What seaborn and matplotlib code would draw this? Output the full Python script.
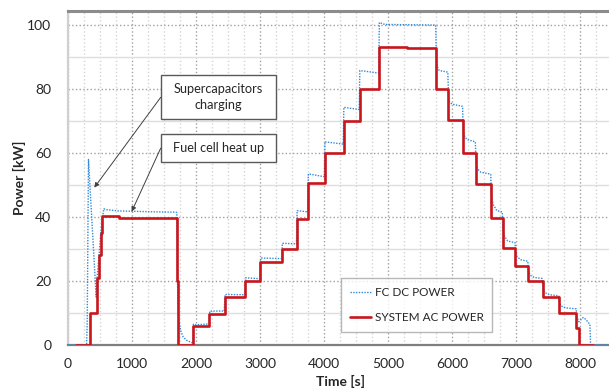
import seaborn as sns
import matplotlib.pyplot as plt
from matplotlib.patches import Rectangle
from matplotlib.ticker import MultipleLocator

# SYSTEM AC POWER: step changes (time [s], power [kW]) drawn as steps-post
ac_time = [125, 336, 448, 484, 510, 536, 800, 1200, 1700, 1724, 1955, 2210,
           2450, 2770, 3005, 3345, 3575, 3750, 4010, 4305, 4555, 4860, 5300,
           5745, 5940, 6170, 6370, 6610, 6790, 6990, 7190, 7415, 7675, 7945,
           7990, 8200]
ac_power = [0, 9.9, 21, 28, 35, 40.2, 39.8, 39.6, 20, 0, 5.8, 9.8,
            15, 20, 26, 30, 39.5, 50.5, 60, 70, 80, 93.1, 92.9,
            80, 70.2, 60, 50.3, 39.8, 30.2, 24.8, 19.9, 14.9, 10.1, 5.4,
            0, 0]

# FC DC POWER samples (time [s], power [kW])
fc_time = [0, 290, 300, 320, 440, 450, 485, 512, 540, 560, 600, 800, 1200,
           1690, 1700, 1715, 1730, 1760, 1800, 1850, 1950, 1960, 2000, 2205,
           2215, 2440, 2455, 2765, 2775, 3000, 3010, 3340, 3350, 3570, 3580,
           3745, 3755, 4005, 4015, 4300, 4310, 4550, 4560, 4855, 4865, 4950,
           5745, 5755, 5770, 5800, 5935, 5945, 5960, 6000, 6165, 6175, 6200,
           6240, 6365, 6375, 6400, 6450, 6605, 6615, 6640, 6700, 6785, 6795,
           6820, 6870, 6985, 6995, 7020, 7080, 7185, 7195, 7220, 7290, 7410,
           7420, 7450, 7520, 7670, 7680, 7700, 7780, 7940, 7950, 7980, 8050,
           8090, 8140, 8155, 8165, 8500]
fc_power = [0, 0, 7, 58, 15, 20, 28, 35, 40, 42.6, 42.3, 41.9, 41.7,
            41.5, 41.4, 15, 8, 4.5, 2.5, 1.5, 0.6, 6.5, 6.3, 6.6,
            10.6, 10.6, 15.8, 15.7, 21, 20.7, 27.2, 27, 31.8, 31.6, 42,
            41.6, 53.5, 52.6, 63.5, 62.8, 74.3, 73.6, 85.8, 85, 100.8, 100.2,
            100, 90, 87, 85.8, 85.3, 78, 76, 75.3, 74.6, 67, 65,
            64.2, 63.5, 57, 55, 54, 53.4, 47, 44, 42, 41.6, 36,
            34, 32.5, 32, 29, 27.5, 26.6, 26.2, 23, 21.8, 21.1, 20.8,
            17.5, 16.4, 15.7, 15.4, 13, 12.2, 11.6, 11.3, 9, 7.3, 8.6,
            8.0, 6.8, 6.5, 0, 0]

box_texts = ['Supercapacitors\ncharging', 'Fuel cell heat up']

sns.set_style('white')
plt.rcParams['font.family'] = ['Lato', 'DejaVu Sans']

fig = plt.figure(figsize=(6.09, 3.90), dpi=100)
ax = fig.add_axes([68 / 609, 1 - 345 / 390, 544 / 609, 334 / 390])

sns.lineplot(x=fc_time, y=fc_power, ax=ax, estimator=None, sort=False,
             color='#3088d8', linestyle=(0, (1, 1)), linewidth=1.0,
             label='FC DC POWER', zorder=3)
sns.lineplot(x=ac_time, y=ac_power, ax=ax, estimator=None, sort=False,
             color='#c8161d', linewidth=1.9, drawstyle='steps-post',
             label='SYSTEM AC POWER', zorder=4)

ax.set_xlim(0, 8500)
ax.set_ylim(0, 104.4)
ax.xaxis.set_major_locator(MultipleLocator(1000))
ax.xaxis.set_minor_locator(MultipleLocator(250))
ax.yaxis.set_major_locator(MultipleLocator(20))
ax.yaxis.set_minor_locator(MultipleLocator(10))
ax.xaxis.set_major_formatter(plt.FuncFormatter(lambda v, p: f'{v:.0f}' if v <= 8000 else ''))

ax.grid(which='major', axis='both', linestyle=':', color='#a0a0a0', linewidth=1)
ax.grid(which='minor', axis='x', linestyle=':', color='#d4d4d4', linewidth=1)
ax.grid(which='minor', axis='y', linestyle='-', color='#dedede', linewidth=1)
ax.set_axisbelow(True)

ax.tick_params(axis='y', which='major', length=4, color='#a0a0a0', width=1,
               labelsize=10, pad=8, labelcolor='#262626')
ax.tick_params(axis='x', which='major', length=0, labelsize=10, pad=9,
               labelcolor='#262626')
ax.tick_params(which='minor', length=0)

for side, col, lw in [('top', '#8c8c8c', 2.2), ('bottom', '#7f7f7f', 1.6),
                      ('left', '#d0d0d0', 1.6)]:
    ax.spines[side].set_color(col)
    ax.spines[side].set_linewidth(lw)
ax.spines['right'].set_visible(False)

ax.set_xlabel('Time [s]', fontsize=10, fontweight='bold', labelpad=4)
ax.set_ylabel('Power [kW]', fontsize=10, fontweight='bold', labelpad=1)

# annotation boxes
for (y0, y1), txt in zip([(70.6, 84.4), (57.3, 65.9)], box_texts):
    ax.add_patch(Rectangle((1448, y0), 1797, y1 - y0, facecolor='white',
                           edgecolor='#595959', linewidth=1, zorder=6))
    ax.text(2346, (y0 + y1) / 2, txt, ha='center', va='center', fontsize=9.2,
            color='#262626', linespacing=1.35, zorder=7)

arrow = dict(arrowstyle='-|>', color='#404040', lw=0.7, mutation_scale=7,
             shrinkA=0, shrinkB=0)
ax.annotate('', xy=(411, 49.2), xytext=(1448, 77.4), arrowprops=arrow, zorder=6)
ax.annotate('', xy=(995, 41.7), xytext=(1448, 61.5), arrowprops=arrow, zorder=6)

leg = ax.legend(loc='upper left', bbox_to_anchor=(0.502, 0.2006),
                borderaxespad=0, fontsize=8.5, frameon=True, fancybox=False,
                handlelength=1.8, handletextpad=0.3, labelspacing=1.2,
                borderpad=0.75, edgecolor='#a6a6a6')
leg.get_frame().set_linewidth(1)
for t in leg.get_texts():
    t.set_color('#262626')

fig.savefig('out.png', dpi=100)
